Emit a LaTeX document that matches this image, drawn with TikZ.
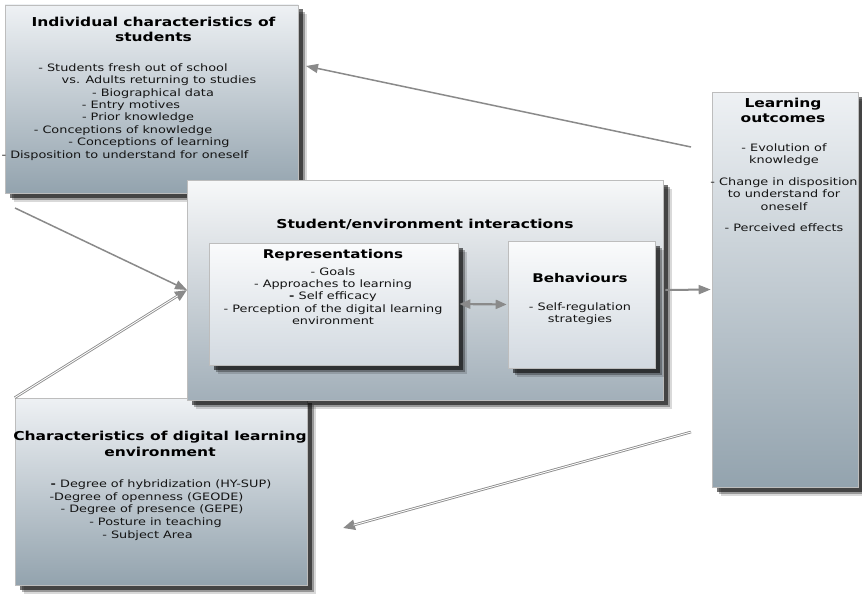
\documentclass[tikz,border=0pt]{standalone}
\usepackage{fontspec}
\setmainfont[FakeStretch=1.26]{DejaVu Sans}
\usetikzlibrary{shadows,arrows.meta,calc}
\definecolor{boxtop}{HTML}{EEF1F4}
\definecolor{boxbot}{HTML}{93A3AE}
\definecolor{intop}{HTML}{FAFBFC}
\definecolor{inbot}{HTML}{D2D9E0}
\definecolor{midtop}{HTML}{F7F8F9}
\definecolor{midbot}{HTML}{A2AFB9}
\definecolor{argray}{HTML}{8A8A8A}
\definecolor{edgegray}{HTML}{BDBDBD}
\definecolor{txt}{HTML}{141414}
\tikzset{
  softshadow/.style={
    drop shadow={shadow xshift=9pt,shadow yshift=-9pt,opacity=.15,fill=black},
    drop shadow={shadow xshift=7pt,shadow yshift=-7pt,opacity=.3,fill=black},
    drop shadow={shadow xshift=4.5pt,shadow yshift=-4.5pt,opacity=.55,fill=black}},
  bigbox/.style={draw=edgegray, line width=0.6pt, inner sep=0pt, softshadow,
    top color=boxtop, bottom color=boxbot},
  midbox/.style={draw=edgegray, line width=0.6pt, inner sep=0pt, softshadow,
    top color=midtop, bottom color=midbot},
  inbox/.style={draw=edgegray, line width=0.6pt, inner sep=0pt, softshadow,
    top color=intop, bottom color=inbot},
  ttl/.style={font=\fontsize{12.3}{15.5}\selectfont\bfseries, text=black, align=center, inner sep=0pt},
  bod/.style={font=\fontsize{10.2}{12.4}\selectfont, text=txt, align=center, inner sep=0pt},
  lin/.style={font=\fontsize{10.2}{12.4}\selectfont, text=txt, inner sep=0pt, anchor=base},
  arr/.style={draw=argray, line width=1.5pt, -{Triangle[length=12pt,width=9pt]}},
  hol/.style={draw=argray, line width=2.6pt, -{Triangle[length=12pt,width=10pt]}},
  holin/.style={draw=white, line width=0.9pt, shorten >=11pt},
}
\begin{document}
\begin{tikzpicture}[x=1pt,y=-1pt]
\useasboundingbox (0,0) rectangle (862,594);
\fill[white] (0,0) rectangle (862,594);

% boxes
\node[bigbox, minimum width=293pt, minimum height=188pt] (ind) at (151.5,99) {};
\node[bigbox, minimum width=292pt, minimum height=187pt] (dig) at (161,491.5) {};
\node[bigbox, minimum width=146pt, minimum height=395pt] (out) at (785,289.5) {};
\node[midbox, minimum width=476pt, minimum height=220pt] (inter) at (425,290) {};
\node[inbox, minimum width=249pt, minimum height=122pt] (rep) at (333.5,304) {};
\node[inbox, minimum width=147pt, minimum height=127pt] (beh) at (581.5,304.5) {};

% individual characteristics
\node[ttl] (indt) at (153.5,29.5) {Individual characteristics of\\students};
\node[lin] (i1) at (133,71) {- Students fresh out of school};
\node[lin] (i2) at (159,83.5) {vs. Adults returning to studies};
\node[lin] (i3) at (153,96) {- Biographical data};
\node[lin] (i4) at (131,108.5) {- Entry motives};
\node[lin] (i5) at (138,121) {- Prior knowledge};
\node[lin] (i6) at (123,133) {- Conceptions of knowledge};
\node[lin] (i7) at (149,145.5) {- Conceptions of learning};
\node[lin] (i8) at (125,158) {- Disposition to understand for oneself};

% digital environment
\node[ttl] (digt) at (160,444) {Characteristics of digital learning\\environment};
\node[lin] (d1) at (161,487.5) {\textbf{-} Degree of hybridization (HY-SUP)};
\node[lin] (d2) at (146.5,500.5) {-Degree of openness (GEODE)};
\node[lin] (d3) at (152,512.5) {- Degree of presence (GEPE)};
\node[lin] (d4) at (155.5,525.5) {- Posture in teaching};
\node[lin] (d5) at (147.5,538.5) {- Subject Area};

% learning outcomes
\node[ttl] (outt) at (783,110.5) {Learning\\outcomes};
\node[bod] (o1) at (784,154.5) {- Evolution of\\knowledge};
\node[bod] (o2) at (784,194) {- Change in disposition\\to understand for\\oneself};
\node[bod] (o3) at (784,227.5) {- Perceived effects};

% interactions
\node[ttl] (intt) at (425,224) {Student/environment interactions};
\node[ttl, font=\fontsize{12}{14}\selectfont\bfseries] (rept) at (333,255) {Representations};
\node[bod] (repb) at (333,296) {- Goals\\- Approaches to learning\\\textbf{-} Self efficacy\\- Perception of the digital learning\\environment};
\node[ttl, font=\fontsize{12}{14}\selectfont\bfseries] (beht) at (580,278) {Behaviours};
\node[bod] (behb) at (580,313.5) {- Self-regulation\\strategies};

% connectors
\coordinate (c1) at (15,208);
\coordinate (c2) at (691,147);
\coordinate (c3) at (306,66);
\coordinate (c4) at (691,432);
\coordinate (c5) at (343,528);
\coordinate (c6) at (187,290);

\draw[arr] (c1) -- (c6);
\draw[hol] (dig.north west) -- (c6);
\draw[holin] (dig.north west) -- (c6);
\draw[arr] (c2) -- (c3);
\draw[hol] (c4) -- (c5);
\draw[holin] (c4) -- (c5);
\draw[draw=argray, line width=2.2pt, {Triangle[length=11pt,width=9pt]}-{Triangle[length=11pt,width=9pt]}] ($(rep.east)+(1,0)$) -- ($(beh.west)+(-1,0)$);
\draw[arr, line width=2pt] ($(inter.east)+(2,0)$) -- ($(out.west)+(-1,0)$);
\end{tikzpicture}
\end{document}
